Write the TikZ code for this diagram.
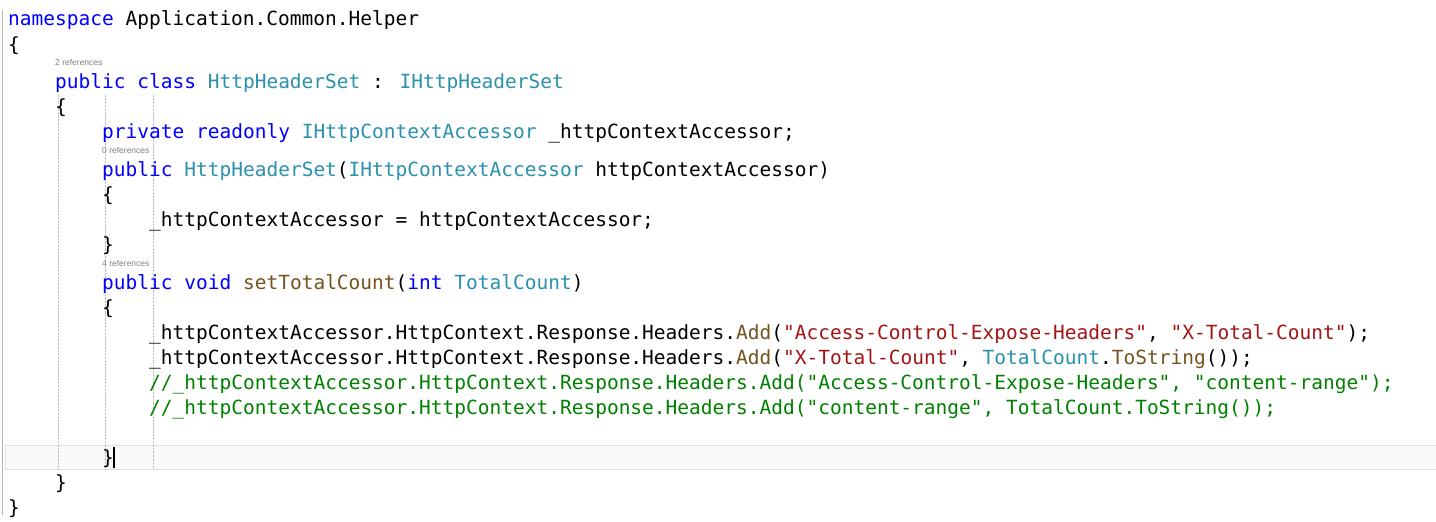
\documentclass[tikz,border=0pt]{standalone}
\usepackage{fontspec}
\newfontfamily\code{DejaVu Sans Mono}
\newfontfamily\uif{Liberation Sans}
\definecolor{kwc}{HTML}{0000FF}
\definecolor{tyc}{HTML}{2B91AF}
\definecolor{stc}{HTML}{A31515}
\definecolor{cmc}{HTML}{008000}
\definecolor{mec}{HTML}{74531F}
\definecolor{refc}{HTML}{808080}
\newcommand\kw[1]{\textcolor{kwc}{#1}}
\newcommand\ty[1]{\textcolor{tyc}{#1}}
\newcommand\stq[1]{\textcolor{stc}{#1}}
\newcommand\me[1]{\textcolor{mec}{#1}}
\begin{document}
\begin{tikzpicture}[x=1pt,y=-1pt,
  ln/.style={anchor=base west,inner sep=0pt,font=\code\fontsize{19.5}{20}\selectfont},
  rf/.style={anchor=base west,inner sep=0pt,font=\uif\fontsize{8.5}{9}\selectfont,text=refc}]
\useasboundingbox[fill=white] (0,0) rectangle (1436,522);
\draw[draw=black!12,fill=black!2] (5,445) rectangle (1436,469);
\foreach \x in {58,105,153}{\draw[black!25,densely dotted] (\x,95) -- (\x,470);}
\draw[black!30] (2,10) -- (2,515);
\def\cx#1{\fpeval{8+#1*11.75}}
\node[ln] (l1) at (8,25) {\kw{namespace} Application.Common.Helper};
\node[ln] (l2) at (8,51) {\{};
\node[rf] (r1) at (55,65) {2 references};
\node[ln] (l3) at (55,88) {\kw{public} \kw{class} \ty{HttpHeaderSet} : \ty{IHttpHeaderSet}};
\node[ln] (l4) at (55,113) {\{};
\node[ln] (l5) at (102,138) {\kw{private} \kw{readonly} \ty{IHttpContextAccessor} \_httpContextAccessor;};
\node[rf] (r2) at (102,153) {0 references};
\node[ln] (l6) at (102,176) {\kw{public} \ty{HttpHeaderSet}(\ty{IHttpContextAccessor} httpContextAccessor)};
\node[ln] (l7) at (102,201) {\{};
\node[ln] (l8) at (149,226) {\_httpContextAccessor = httpContextAccessor;};
\node[ln] (l9) at (102,251) {\}};
\node[rf] (r3) at (102,266) {4 references};
\node[ln] (l10) at (102,289) {\kw{public} \kw{void} \me{setTotalCount}(\kw{int} \ty{TotalCount})};
\node[ln] (l11) at (102,314) {\{};
\node[ln] (l12) at (149,339) {\_httpContextAccessor.HttpContext.Response.Headers.\me{Add}(\stq{"Access-Control-Expose-Headers"}, \stq{"X-Total-Count"});};
\node[ln] (l13) at (149,364) {\_httpContextAccessor.HttpContext.Response.Headers.\me{Add}(\stq{"X-Total-Count"}, \ty{TotalCount}.\me{ToString}());};
\node[ln,text=cmc] (l14) at (149,389) {//\_httpContextAccessor.HttpContext.Response.Headers.Add("Access-Control-Expose-Headers", "content-range");};
\node[ln,text=cmc] (l15) at (149,414) {//\_httpContextAccessor.HttpContext.Response.Headers.Add("content-range", TotalCount.ToString());};
\node[ln] (l16) at (102,464) {\}};
\draw[black,line width=1.2pt] (114,447) -- (114,468);
\node[ln] (l17) at (55,489) {\}};
\node[ln] (l18) at (8,514) {\}};
\end{tikzpicture}
\end{document}
